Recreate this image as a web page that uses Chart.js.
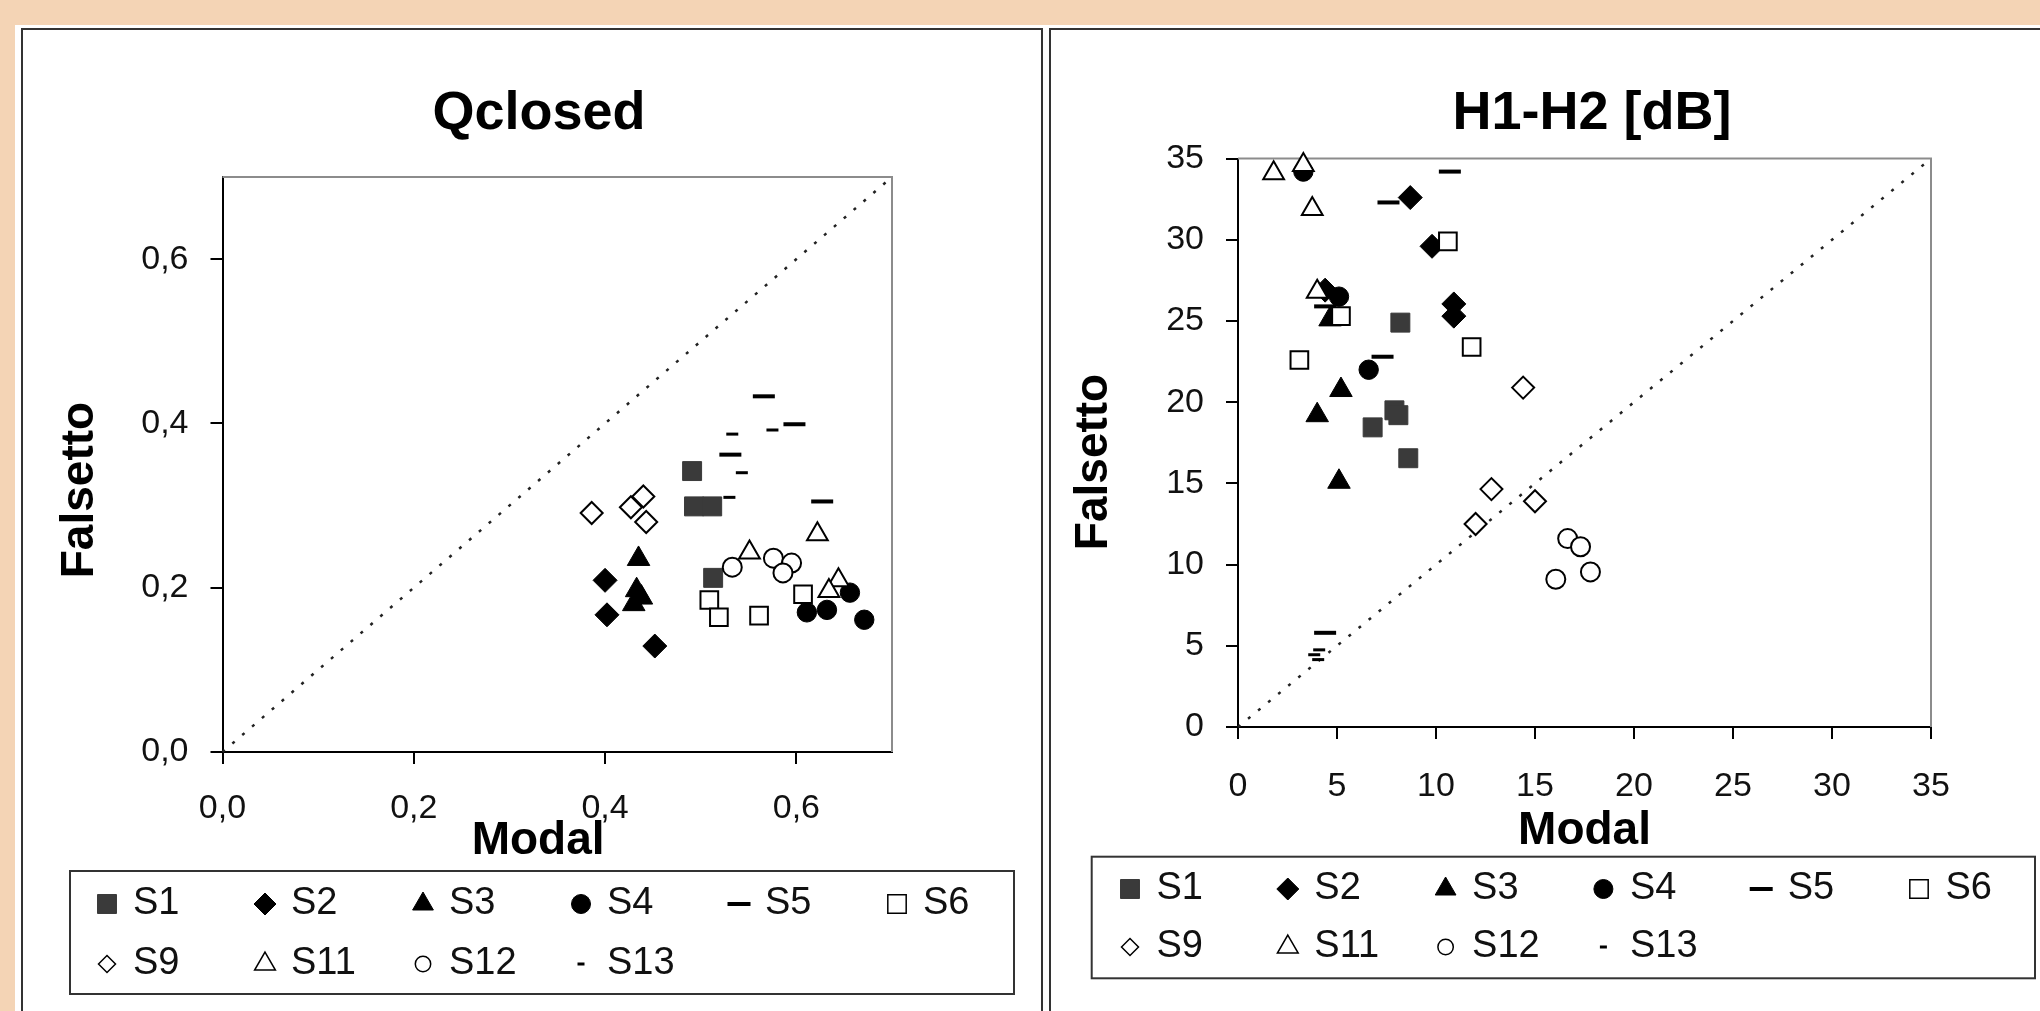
<!DOCTYPE html>
<html>
<head>
<meta charset="utf-8">
<title>Qclosed / H1-H2 — modal vs falsetto</title>
<script src="https://cdn.jsdelivr.net/npm/chart.js@4.4.1/dist/chart.umd.min.js"></script>
<style>
  html, body { margin: 0; padding: 0; }
  body {
    width: 2040px; height: 1011px; overflow: hidden; position: relative;
    background: #f4d4b5;
  }
  .sheet { position: absolute; background: #fff; }
  .frame { position: absolute; border: 2px solid #333; box-sizing: border-box; }
  canvas { position: absolute; }
</style>
</head>
<body>
<div class="sheet" style="left:15px;top:25px;width:1031px;height:1000px"></div>
<div class="sheet" style="left:1046px;top:25px;width:1000px;height:1000px"></div>
<div class="frame" style="left:21px;top:28px;width:1022px;height:1000px"></div>
<div class="frame" style="left:1049px;top:28px;width:1000px;height:1000px"></div>
<canvas id="qclosed" width="1034" height="981" style="left:22px;top:30px"></canvas>
<canvas id="h1h2" width="1082" height="981" style="left:1051px;top:30px"></canvas>

<script>
"use strict";

const FONT = '"Liberation Sans", Arial, sans-serif';

// series names, in drawing order (later ones on top, like the original)
const SERIES = ["S1", "S2", "S3", "S4", "S5", "S6", "S9", "S11", "S12", "S13"];
const LEGEND_ROWS = [
  ["S1", "S2", "S3", "S4", "S5", "S6"],
  ["S9", "S11", "S12", "S13"],
];

// --- Qclosed: [modal, falsetto] pairs ---
const QC_S1 = [[0.491, 0.342], [0.493, 0.299], [0.512, 0.299], [0.513, 0.212]];
const QC_S2 = [[0.400, 0.209], [0.402, 0.167], [0.452, 0.129]];
const QC_S3 = [[0.435, 0.235], [0.433, 0.197], [0.438, 0.188], [0.430, 0.180]];
const QC_S4 = [[0.656, 0.194], [0.611, 0.170], [0.632, 0.173], [0.671, 0.161]];
const QC_S5 = [[0.566, 0.433], [0.598, 0.399], [0.531, 0.362], [0.627, 0.305]];
const QC_S6 = [[0.509, 0.185], [0.519, 0.164], [0.561, 0.166], [0.607, 0.192]];
const QC_S9 = [[0.386, 0.291], [0.427, 0.298], [0.440, 0.311], [0.443, 0.280]];
const QC_S11 = [[0.622, 0.265], [0.551, 0.243], [0.644, 0.209], [0.634, 0.196]];
const QC_S12 = [[0.533, 0.225], [0.576, 0.236], [0.595, 0.230], [0.586, 0.218]];
const QC_S13 = [[0.533, 0.387], [0.575, 0.392], [0.543, 0.340], [0.530, 0.310]];
const QC_DIAGONAL = [[0, 0], [0.7, 0.7]];
const QC_TICKS = [0, 0.2, 0.4, 0.6];
const QC_TICK_LABELS = ["0,0", "0,2", "0,4", "0,6"];

// --- H1-H2 [dB]: [modal, falsetto] pairs ---
const HH_S1 = [[8.2, 24.9], [7.9, 19.5], [8.1, 19.2], [6.8, 18.45], [8.6, 16.55]];
const HH_S2 = [[8.7, 32.6], [9.8, 29.6], [10.9, 26.05], [10.9, 25.3], [4.4, 26.9]];
const HH_S3 = [[5.2, 20.75], [4.0, 19.2], [5.1, 15.1], [4.65, 25.1]];
const HH_S4 = [[3.3, 34.2], [5.1, 26.5], [6.6, 22.0]];
const HH_S5 = [[10.7, 34.2], [7.6, 32.3], [7.3, 22.8], [4.4, 25.9], [4.4, 5.8]];
const HH_S6 = [[10.6, 29.9], [5.2, 25.3], [11.8, 23.4], [3.1, 22.6]];
const HH_S9 = [[14.4, 20.9], [12.8, 14.65], [15.0, 13.9], [12.0, 12.5]];
const HH_S11 = [[1.8, 34.1], [3.3, 34.6], [3.75, 31.9], [4.0, 26.8]];
const HH_S12 = [[16.65, 11.6], [17.3, 11.1], [17.8, 9.55], [16.05, 9.1]];
const HH_S13 = [[4.1, 4.75], [3.85, 4.45], [4.05, 4.15]];
const HH_DIAGONAL = [[0, 0], [35, 35]];
const HH_TICKS = [0, 5, 10, 15, 20, 25, 30, 35];
const HH_TICK_LABELS = ["0", "5", "10", "15", "20", "25", "30", "35"];

// marker look per series (r = plot radius, lr = legend radius)
const MARKERS = {
  S1:  { style: "rect",     r: 13.4, lr: 13.4, fill: "#3a3a3a", stroke: "#3a3a3a", lw: 1 },
  S2:  { style: "rectRot",  r: 12,   lr: 11,   fill: "#000",    stroke: "#000",    lw: 1 },
  S3:  { style: "triangle", r: 13,   lr: 12,   fill: "#000",    stroke: "#000",    lw: 1 },
  S4:  { style: "circle",   r: 9.7,  lr: 9.5,  fill: "#000",    stroke: "#000",    lw: 1 },
  S5:  { style: "line",     r: 11,   lr: 11.5, fill: "#000",    stroke: "#000",    lw: 4 },
  S6:  { style: "rect",     r: 12.5, lr: 13,   fill: "#fff",    stroke: "#000",    lw: 2 },
  S9:  { style: "rectRot",  r: 11,   lr: 8.5,  fill: "#fff",    stroke: "#000",    lw: 2 },
  S11: { style: "triangle", r: 12,   lr: 12,   fill: "#fff",    stroke: "#000",    lw: 2 },
  S12: { style: "circle",   r: 9.5,  lr: 7.7,  fill: "#fff",    stroke: "#000",    lw: 2 },
  S13: { style: "line",     r: 6,    lr: 3.5,  fill: "#000",    stroke: "#000",    lw: 3 },
};

Chart.defaults.font.family = FONT;
Chart.defaults.color = "#111";

// grey top/right edge of the plot area
const plotFrame = {
  id: "plotFrame",
  beforeDatasetsDraw(chart) {
    const { ctx, chartArea: { left, top, right, bottom } } = chart;
    ctx.save();
    ctx.strokeStyle = "#8c8c8c";
    ctx.lineWidth = 2;
    ctx.beginPath();
    ctx.moveTo(left, top);
    ctx.lineTo(right, top);
    ctx.lineTo(right, bottom);
    ctx.stroke();
    ctx.restore();
  },
};

// boxed two-row legend with fixed columns, as in the Excel original
const gridLegend = {
  id: "gridLegend",
  afterDraw(chart, args, opts) {
    const ctx = chart.ctx;
    const [bx, by, bw, bh] = opts.box;
    ctx.save();
    ctx.strokeStyle = "#333";
    ctx.lineWidth = 2;
    ctx.strokeRect(bx, by, bw, bh);
    ctx.font = `${opts.fontSize}px ${FONT}`;
    ctx.textBaseline = "middle";
    ctx.textAlign = "left";
    LEGEND_ROWS.forEach((row, r) => {
      row.forEach((name, c) => {
        const m = MARKERS[name];
        const x = opts.x0 + c * opts.dx;
        const y = opts.rows[r];
        ctx.fillStyle = m.fill;
        ctx.strokeStyle = m.stroke;
        ctx.lineWidth = m.style === "line" ? m.lw : Math.min(m.lw, 1.5);
        Chart.helpers.drawPoint(ctx, {
          pointStyle: m.style, radius: m.lr, borderWidth: ctx.lineWidth, rotation: 0,
        }, x, y);
        ctx.fillStyle = "#111";
        ctx.fillText(name, x + opts.gap, y);
      });
    });
    ctx.restore();
  },
};

function makeChart(canvasId, cfg) {
  const datasets = SERIES.map((name, i) => {
    const m = MARKERS[name];
    return {
      label: name,
      data: cfg.series[i].map(([x, y]) => ({ x, y })),
      pointStyle: m.style,
      pointRadius: m.r,
      pointHoverRadius: m.r,
      backgroundColor: m.fill,
      borderColor: m.stroke,
      borderWidth: m.lw,
      order: 20 - i,
      clip: false,
    };
  });
  datasets.push({
    label: "y = x",
    data: cfg.diagonal.map(([x, y]) => ({ x, y })),
    showLine: true,
    borderColor: "#222",
    borderWidth: 2.5,
    borderDash: [3, 10],
    pointRadius: 0,
    order: 100,
    clip: false,
  });

  const tickScale = (ticks, labels, padding) => ({
    type: "linear",
    min: 0,
    max: cfg.max,
    afterBuildTicks: (s) => { s.ticks = ticks.map((value) => ({ value })); },
    ticks: {
      callback: (v, i) => labels[i],
      font: { size: 34 },
      color: "#111",
      padding,
      autoSkip: false,
      maxRotation: 0,
    },
    grid: { display: true, drawOnChartArea: false, drawTicks: true, tickLength: 12, color: "#000", lineWidth: 2 },
    border: { display: true, color: "#000", width: 2 },
  });

  return new Chart(document.getElementById(canvasId), {
    type: "scatter",
    data: { datasets },
    options: {
      responsive: false,
      animation: false,
      devicePixelRatio: 1,
      events: [],
      layout: { padding: { left: 0, right: 0, top: 0, bottom: cfg.legendSpace } },
      plugins: {
        legend: { display: false },
        tooltip: { enabled: false },
        title: {
          display: true,
          text: cfg.title,
          color: "#000",
          font: { size: 54, weight: "bold" },
          padding: { top: cfg.titlePad[0], bottom: cfg.titlePad[1] },
        },
        gridLegend: cfg.legend,
      },
      scales: {
        x: {
          ...tickScale(cfg.ticks, cfg.tickLabels, cfg.xTickPad),
          position: "bottom",
          afterFit: (s) => { s.height = cfg.xAxisHeight; },
          title: {
            display: true, text: cfg.xTitle, color: "#000",
            font: { size: 46, weight: "bold" }, padding: { top: 0, bottom: 0 },
          },
        },
        y: {
          ...tickScale(cfg.ticks, cfg.tickLabels, 22),
          position: "left",
          afterFit: (s) => { s.width = cfg.yAxisWidth; },
          title: {
            display: true, text: cfg.yTitle, color: "#000",
            font: { size: 46, weight: "bold" }, padding: { top: cfg.yTitlePad, bottom: 0 },
          },
        },
        // empty right-hand box: keeps the plot where it sits in the original
        pad: {
          type: "linear",
          position: "right",
          display: true,
          grid: { display: false },
          ticks: { display: false },
          border: { display: false },
          afterFit: (s) => { s.width = cfg.rightSpace; },
        },
      },
    },
    plugins: [plotFrame, gridLegend],
  });
}

makeChart("qclosed", {
  title: "Qclosed",
  xTitle: "Modal   ",
  yTitle: "Falsetto    ",
  max: 0.7,
  ticks: QC_TICKS,
  tickLabels: QC_TICK_LABELS,
  series: [QC_S1, QC_S2, QC_S3, QC_S4, QC_S5, QC_S6, QC_S9, QC_S11, QC_S12, QC_S13],
  diagonal: QC_DIAGONAL,
  titlePad: [51.6, 30.6],
  yAxisWidth: 200.5,
  yTitlePad: 30.4,
  rightSpace: 164,
  xTickPad: 24.6,
  xAxisHeight: 116.6,
  legendSpace: 142.4,
  legend: { box: [48, 841, 944, 123], rows: [874, 934], x0: 85, dx: 158, gap: 26, fontSize: 38 },
});

makeChart("h1h2", {
  title: "H1-H2 [dB]",
  xTitle: "Modal",
  yTitle: "Falsetto   ",
  max: 35,
  ticks: HH_TICKS,
  tickLabels: HH_TICK_LABELS,
  series: [HH_S1, HH_S2, HH_S3, HH_S4, HH_S5, HH_S6, HH_S9, HH_S11, HH_S12, HH_S13],
  diagonal: HH_DIAGONAL,
  titlePad: [51.4, 12.4],
  yAxisWidth: 187,
  yTitlePad: 16,
  rightSpace: 202,
  xTickPad: 27,
  xAxisHeight: 131.6,
  legendSpace: 152.4,
  legend: { box: [40.7, 826.7, 943.3, 121.6], rows: [859, 917], x0: 79, dx: 157.8, gap: 26.5, fontSize: 38 },
});
</script>
</body>
</html>
